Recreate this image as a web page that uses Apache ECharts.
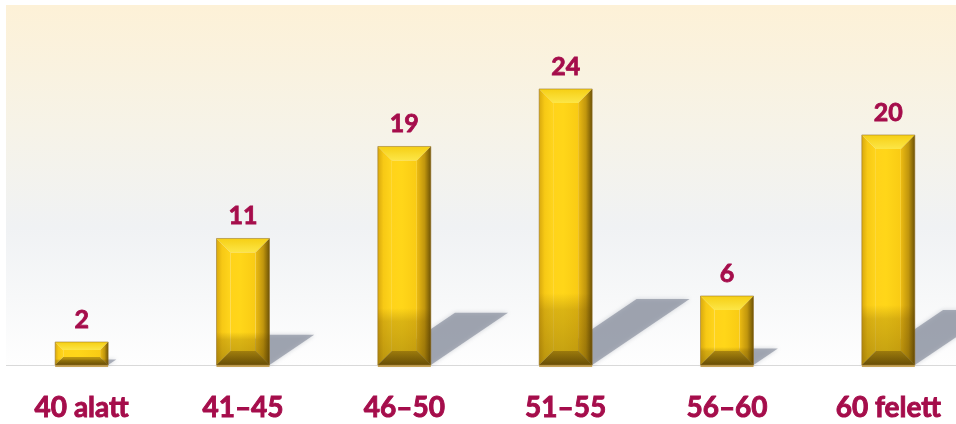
<!DOCTYPE html>
<html>
<head>
<meta charset="utf-8">
<script src="https://cdn.jsdelivr.net/npm/echarts@6/dist/echarts.min.js"></script>
<style>
  html, body { margin: 0; padding: 0; background: #fff; }
  #chart { width: 956px; height: 424px; }
</style>
</head>
<body>
<div id="chart"></div>
<script>
const categories = ['40 alatt', '41–45', '46–50', '51–55', '56–60', '60 felett']
const values = [2, 11, 19, 24, 6, 20]

const labelColor = '#A50D4B'
const barWidth = 53

// gold bar with bevel + cast shadow on the floor
function renderBar(params, api) {
  const topPt = api.coord([api.value(0), api.value(1)])
  const basePt = api.coord([api.value(0), 0])
  const cx = topPt[0]
  const top = topPt[1]
  const y0 = basePt[1]
  const h = y0 - top
  const xl = cx - barWidth / 2
  const xr = cx + barWidth / 2
  const t = Math.min(14, h * 0.35)
  const dx = h * 0.353
  const dy = h * 0.239

  return {
    type: 'group',
    children: [
      {
        type: 'polygon',
        shape: { points: [[xl, y0], [xl + dx, y0 - dy], [xr + dx, y0 - dy], [xr, y0]] },
        style: { fill: 'rgba(125,132,148,0.6)', shadowBlur: 4, shadowColor: 'rgba(125,132,148,0.6)' }
      },
      {
        type: 'rect',
        shape: { x: xl, y: y0, width: barWidth, height: 2 },
        style: { fill: '#C7A458' }
      },
      // top bevel
      {
        type: 'polygon',
        shape: { points: [[xl, top], [xr, top], [xr - t, top + t], [xl + t, top + t]] },
        style: {
          fill: new echarts.graphic.LinearGradient(0, 0, 0, 1, [
            { offset: 0, color: '#F6CF14' },
            { offset: 1, color: '#FCE647' }
          ])
        }
      },
      // left bevel
      {
        type: 'polygon',
        shape: { points: [[xl, top], [xl + t, top + t], [xl + t, y0 - t], [xl, y0]] },
        style: {
          fill: new echarts.graphic.LinearGradient(0, 0, 1, 0, [
            { offset: 0, color: '#D9A90E' },
            { offset: 0.4, color: '#F7C915' },
            { offset: 1, color: '#FFD51C' }
          ])
        }
      },
      // right bevel
      {
        type: 'polygon',
        shape: { points: [[xr, top], [xr - t, top + t], [xr - t, y0 - t], [xr, y0]] },
        style: {
          fill: new echarts.graphic.LinearGradient(0, 0, 1, 0, [
            { offset: 0, color: '#EDBC12' },
            { offset: 0.55, color: '#C1960D' },
            { offset: 1, color: '#6E5306' }
          ])
        }
      },
      // bottom bevel
      {
        type: 'polygon',
        shape: { points: [[xl, y0], [xr, y0], [xr - t, y0 - t], [xl + t, y0 - t]] },
        style: {
          fill: new echarts.graphic.LinearGradient(0, 0, 0, 1, [
            { offset: 0, color: '#C09A12' },
            { offset: 1, color: '#7A5E08' }
          ])
        }
      },
      // face
      {
        type: 'rect',
        shape: { x: xl + t, y: top + t, width: barWidth - 2 * t, height: Math.max(0, h - 2 * t) },
        style: {
          fill: new echarts.graphic.LinearGradient(0, 0, 1, 0, [
            { offset: 0, color: '#FFD31A' },
            { offset: 0.4, color: '#FFD619' },
            { offset: 1, color: '#F9CB14' }
          ])
        }
      },
      // darker lower part
      {
        type: 'rect',
        shape: { x: xl, y: top, width: barWidth, height: h },
        style: {
          fill: new echarts.graphic.LinearGradient(0, 0, 0, 1, [
            { offset: 0, color: 'rgba(90,60,0,0)' },
            { offset: 0.74, color: 'rgba(90,60,0,0)' },
            { offset: 0.8, color: 'rgba(90,60,0,0.22)' },
            { offset: 1, color: 'rgba(70,48,0,0.34)' }
          ])
        }
      },
      {
        type: 'rect',
        shape: { x: xl, y: top, width: barWidth, height: h },
        style: { fill: 'none', stroke: 'rgba(150,115,40,0.55)', lineWidth: 1 }
      },
      {
        type: 'text',
        style: {
          text: String(api.value(1)),
          x: cx,
          y: top - 10,
          align: 'center',
          verticalAlign: 'bottom',
          font: 'bold 25px Lato',
          fill: labelColor,
          stroke: labelColor,
          lineWidth: 0.8
        }
      }
    ]
  }
}

const chart = echarts.init(document.getElementById('chart'))
chart.setOption({
  animation: false,
  graphic: [
    {
      type: 'rect',
      z: -10,
      shape: { x: 6, y: 5, width: 950, height: 360 },
      style: {
        fill: new echarts.graphic.LinearGradient(0, 0, 0, 1, [
          { offset: 0, color: '#FDF1D7' },
          { offset: 0.35, color: '#F6F3E8' },
          { offset: 0.62, color: '#F0F2F4' },
          { offset: 1, color: '#FEFEFE' }
        ])
      }
    },
    {
      type: 'line',
      z: -9,
      shape: { x1: 6, y1: 365.5, x2: 956, y2: 365.5 },
      style: { stroke: '#D9D9D9', lineWidth: 1 }
    }
  ],
  grid: { left: 1, width: 968, top: 5, height: 360, outerBoundsMode: 'none' },
  xAxis: {
    type: 'category',
    data: categories,
    axisLine: { show: false },
    axisTick: { show: false },
    axisLabel: {
      color: labelColor,
      fontFamily: 'Lato',
      fontWeight: 'bold',
      fontSize: 28,
      margin: 29,
      textBorderColor: labelColor,
      textBorderWidth: 0.9
    }
  },
  yAxis: {
    type: 'value',
    min: 0,
    max: 31.3,
    show: false
  },
  series: [{
    type: 'custom',
    renderItem: renderBar,
    clip: false,
    encode: { x: 0, y: 1 },
    data: values.map((v, i) => [i, v])
  }]
})
</script>
</body>
</html>
